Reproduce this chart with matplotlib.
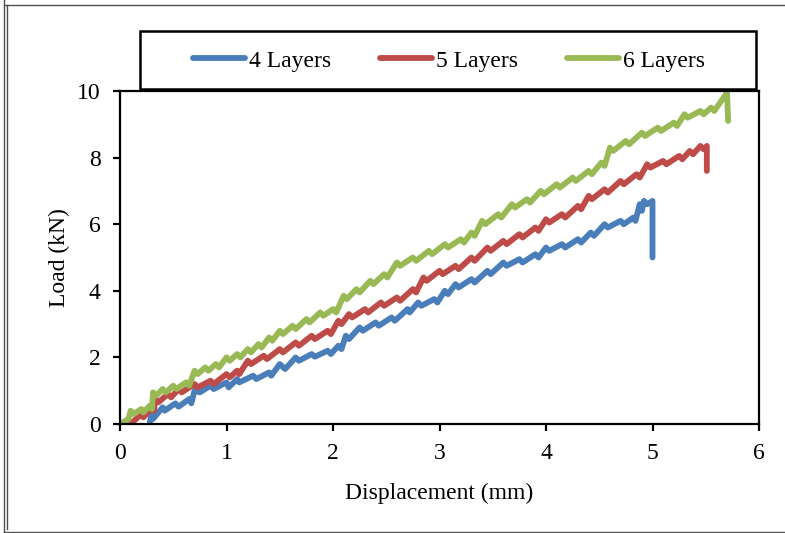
import matplotlib
matplotlib.use('Agg')
import matplotlib.pyplot as plt
from matplotlib.patches import Rectangle
from matplotlib.lines import Line2D

plt.rcParams['font.family'] = ['Liberation Serif', 'DejaVu Serif']

# displacement (mm) / load (kN)
x4 = [0.28, 0.30, 0.31, 0.40, 0.42, 0.52, 0.55, 0.65, 0.67, 0.70, 0.75, 0.85, 0.88, 1.00, 1.02,
      1.10, 1.12, 1.25, 1.28, 1.40, 1.42, 1.50, 1.55, 1.65, 1.68, 1.80, 1.83, 1.95, 1.98, 2.05,
      2.08, 2.12, 2.15, 2.25, 2.28, 2.40, 2.43, 2.55, 2.58, 2.70, 2.72, 2.80, 2.83, 2.95, 2.98,
      3.05, 3.08, 3.15, 3.18, 3.30, 3.33, 3.45, 3.48, 3.60, 3.63, 3.75, 3.78, 3.90, 3.93, 4.00,
      4.03, 4.15, 4.18, 4.30, 4.33, 4.42, 4.45, 4.55, 4.58, 4.70, 4.73, 4.82, 4.84, 4.88, 4.90,
      4.92, 4.95, 5.00, 5.00]
y4 = [0.05, 0.35, 0.15, 0.50, 0.40, 0.62, 0.52, 0.75, 0.62, 1.00, 0.95, 1.15, 1.05, 1.25, 1.10,
      1.35, 1.25, 1.45, 1.35, 1.55, 1.45, 1.80, 1.65, 2.00, 1.90, 2.10, 2.02, 2.20, 2.10, 2.35,
      2.25, 2.65, 2.55, 2.90, 2.80, 3.05, 2.95, 3.20, 3.10, 3.45, 3.35, 3.65, 3.55, 3.75, 3.65,
      4.00, 3.90, 4.20, 4.10, 4.35, 4.25, 4.60, 4.50, 4.85, 4.75, 4.95, 4.85, 5.10, 5.00, 5.30,
      5.20, 5.40, 5.30, 5.55, 5.45, 5.75, 5.65, 6.00, 5.90, 6.10, 6.00, 6.20, 6.10, 6.60, 6.40,
      6.70, 6.60, 6.70, 5.00]

x5 = [0.10, 0.20, 0.22, 0.30, 0.32, 0.33, 0.36, 0.45, 0.48, 0.55, 0.58, 0.70, 0.73, 0.85, 0.88,
      1.00, 1.03, 1.10, 1.12, 1.20, 1.23, 1.35, 1.38, 1.50, 1.53, 1.65, 1.68, 1.80, 1.83, 1.95,
      1.98, 2.05, 2.08, 2.15, 2.18, 2.30, 2.33, 2.45, 2.48, 2.60, 2.63, 2.75, 2.78, 2.85, 2.88,
      3.00, 3.03, 3.15, 3.18, 3.30, 3.33, 3.45, 3.48, 3.60, 3.63, 3.75, 3.78, 3.90, 3.93, 4.00,
      4.03, 4.15, 4.18, 4.30, 4.33, 4.40, 4.43, 4.55, 4.58, 4.70, 4.73, 4.85, 4.88, 4.95, 4.98,
      5.10, 5.13, 5.25, 5.28, 5.35, 5.38, 5.45, 5.48, 5.51, 5.51]
y5 = [0.00, 0.30, 0.20, 0.50, 0.40, 0.75, 0.65, 0.90, 0.80, 1.05, 0.95, 1.20, 1.10, 1.30, 1.20,
      1.50, 1.40, 1.60, 1.50, 1.90, 1.80, 2.05, 1.95, 2.25, 2.15, 2.45, 2.35, 2.65, 2.55, 2.80,
      2.70, 3.10, 3.00, 3.30, 3.20, 3.45, 3.35, 3.65, 3.55, 3.80, 3.70, 4.05, 3.95, 4.40, 4.30,
      4.60, 4.50, 4.75, 4.65, 5.00, 4.90, 5.30, 5.20, 5.50, 5.40, 5.70, 5.60, 5.90, 5.80, 6.15,
      6.05, 6.30, 6.20, 6.55, 6.45, 6.85, 6.75, 7.05, 6.95, 7.30, 7.20, 7.50, 7.40, 7.80, 7.70,
      7.90, 7.80, 8.05, 7.95, 8.20, 8.10, 8.35, 8.25, 8.35, 7.60]

x6 = [0.00, 0.08, 0.10, 0.13, 0.20, 0.22, 0.28, 0.30, 0.31, 0.34, 0.40, 0.43, 0.50, 0.53, 0.62,
      0.65, 0.70, 0.73, 0.80, 0.83, 0.90, 0.93, 1.00, 1.03, 1.10, 1.13, 1.20, 1.23, 1.30, 1.33,
      1.40, 1.43, 1.50, 1.53, 1.62, 1.65, 1.75, 1.78, 1.88, 1.91, 2.00, 2.03, 2.10, 2.13, 2.22,
      2.25, 2.35, 2.38, 2.48, 2.51, 2.60, 2.63, 2.75, 2.78, 2.90, 2.93, 3.05, 3.08, 3.20, 3.23,
      3.30, 3.33, 3.40, 3.43, 3.55, 3.58, 3.68, 3.71, 3.82, 3.85, 3.95, 3.98, 4.10, 4.13, 4.25,
      4.28, 4.40, 4.43, 4.52, 4.55, 4.60, 4.63, 4.75, 4.78, 4.90, 4.93, 5.05, 5.08, 5.20, 5.23,
      5.30, 5.33, 5.45, 5.48, 5.55, 5.58, 5.70, 5.71]
y6 = [0.00, 0.15, 0.40, 0.30, 0.45, 0.35, 0.55, 0.45, 0.95, 0.85, 1.05, 0.95, 1.15, 1.05, 1.25,
      1.15, 1.60, 1.50, 1.70, 1.60, 1.80, 1.70, 2.00, 1.90, 2.10, 2.00, 2.25, 2.15, 2.40, 2.30,
      2.60, 2.50, 2.80, 2.70, 2.95, 2.85, 3.15, 3.05, 3.35, 3.25, 3.45, 3.35, 3.85, 3.75, 4.05,
      3.95, 4.30, 4.20, 4.50, 4.40, 4.85, 4.75, 5.00, 4.90, 5.20, 5.10, 5.40, 5.30, 5.55, 5.45,
      5.75, 5.65, 6.10, 6.00, 6.30, 6.20, 6.60, 6.50, 6.75, 6.65, 7.00, 6.90, 7.20, 7.10, 7.40,
      7.30, 7.60, 7.50, 7.85, 7.75, 8.30, 8.20, 8.50, 8.40, 8.75, 8.65, 8.90, 8.80, 9.05, 8.95,
      9.30, 9.20, 9.40, 9.30, 9.50, 9.40, 9.95, 9.10]

labels = ['4 Layers', '5 Layers', '6 Layers']
colors = ['#4A7EBB', '#BE4B48', '#98B954']

fig = plt.figure(figsize=(7.85, 5.33), dpi=100)
ax = fig.add_axes([120 / 785, 1 - 424 / 533, 639 / 785, 333 / 533])

for xs, ys, lab, c in zip([x4, x5, x6], [y4, y5, y6], labels, colors):
    ax.plot(xs, ys, color=c, lw=4.2, label=lab, solid_capstyle='round', solid_joinstyle='round')

ax.set_xlim(0, 6)
ax.set_ylim(0, 10)
ax.set_xticks(range(0, 7))
ax.set_yticks(range(0, 11, 2))
for s in ax.spines.values():
    s.set_linewidth(1.6)
ax.tick_params(direction='out', length=5, width=1.6, labelsize=17, pad=9)
ax.set_xlabel('Displacement (mm)', fontsize=17, labelpad=13)
ax.set_ylabel('Load (kN)', fontsize=17, labelpad=5)

# legend box on top
fig.patches.append(Rectangle((140 / 785, 1 - 89 / 533), 616 / 785, 58 / 533,
                             transform=fig.transFigure, fill=False, ec='black', lw=1.8))
handles, labs = ax.get_legend_handles_labels()
fig.legend(handles, labs, loc='center', bbox_to_anchor=(449 / 785, 1 - 61 / 533), ncol=3,
           frameon=False, fontsize=17, handlelength=2.2, handletextpad=0.15, columnspacing=2.1)

# outer frame of the chart
for xs_, ys_ in [([4 / 785, 4 / 785], [0, 1]), ([7 / 785, 7 / 785], [4 / 533, 1 - 5 / 533]),
                 ([4 / 785, 1], [1 - 5 / 533, 1 - 5 / 533]), ([4 / 785, 1], [1.5 / 533, 1.5 / 533])]:
    fig.add_artist(Line2D(xs_, ys_, transform=fig.transFigure, color='#505050', lw=1.0))

fig.savefig('out.png', dpi=100)
